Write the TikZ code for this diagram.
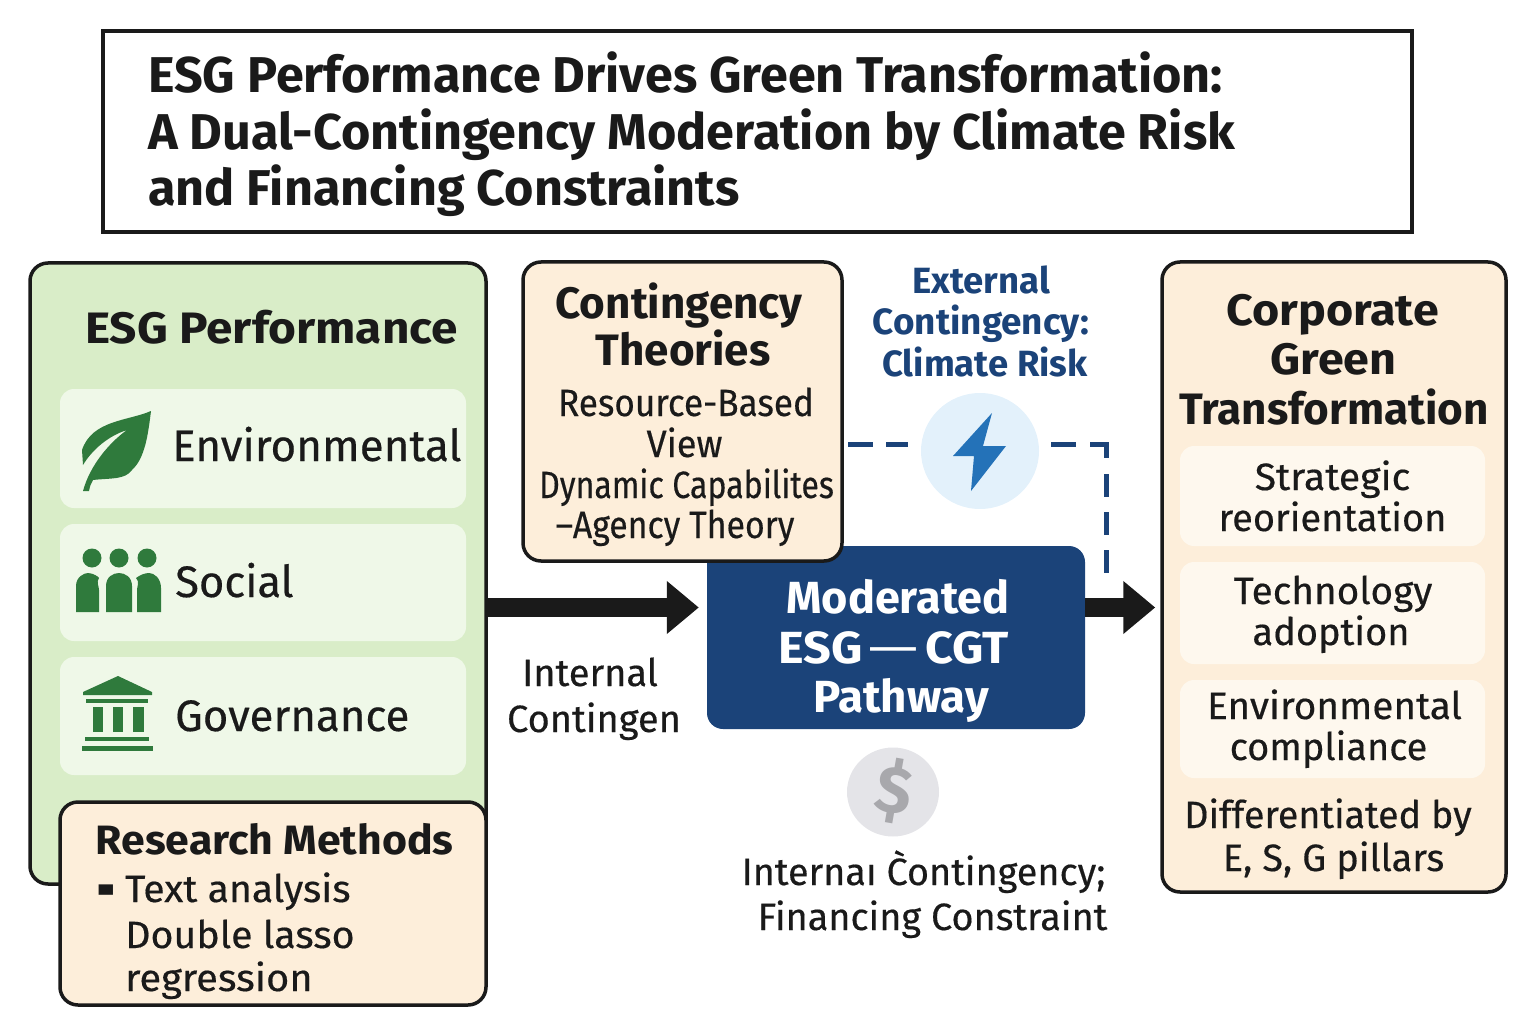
\documentclass[tikz,border=0pt]{standalone}
\usepackage{fontspec}
\usepackage{graphicx}
\setmainfont{Fira Sans}
\newfontfamily\medf{Fira Sans}[FakeBold=0.4]
\newfontfamily\symf{DejaVu Sans}
\newcommand{\sx}[2]{\scalebox{#1}[1]{#2}}
\usetikzlibrary{arrows.meta,shapes.geometric}
\definecolor{ink}{HTML}{1A1A1A}
\definecolor{navy}{HTML}{1B4379}
\definecolor{greenbg}{HTML}{D9EDC8}
\definecolor{greenrow}{HTML}{EFF8E8}
\definecolor{cream}{HTML}{FDEEDA}
\definecolor{creamrow}{HTML}{FEF8EE}
\definecolor{icong}{HTML}{2F7A3C}
\definecolor{bolt}{HTML}{2472B8}
\definecolor{boltbg}{HTML}{E3F1FB}
\definecolor{coinbg}{HTML}{E4E4E8}
\definecolor{coin}{HTML}{A8A8AC}
\tikzset{
  blackbox/.style={draw=ink,line width=3.5pt,rounded corners=18pt,inner sep=0pt},
  rowbox/.style={rounded corners=14pt,inner sep=0pt},
  tline/.style={anchor=base,inner sep=0pt,text=ink},
  lline/.style={anchor=base west,inner sep=0pt,text=ink},
  flow/.style={line width=19pt,draw=ink,-{Triangle[length=32pt,width=51pt]}},
  dashline/.style={draw=navy,line width=5pt},
  ttl/.style={font=\fontsize{50.3}{52}\selectfont\bfseries},
  head/.style={font=\fontsize{44}{46}\selectfont\bfseries},
  modh/.style={font=\fontsize{45}{47}\selectfont\bfseries},
  sub/.style={font=\fontsize{38}{40}\selectfont\medf},
  ext/.style={font=\fontsize{36.5}{38}\selectfont\bfseries},
  rowl/.style={font=\fontsize{44}{46}\selectfont\medf}
}
\begin{document}
\begin{tikzpicture}[x=1pt,y=-1pt]
\useasboundingbox (0,0) rectangle (1536,1024);
% title
\node[draw=ink,line width=3.5pt,minimum width=1309pt,minimum height=201pt,inner sep=0pt] (title) at (757.5,131.5) {};
\node[lline,ttl] (t1) at (148,92.5) {ESG Performance Drives Green Transformation:};
\node[lline,ttl] (t2) at (148,149.5) {A Dual-Contingency Moderation by Climate Risk};
\node[lline,ttl] (t3) at (148,205.5) {and Financing Constraints};
% ESG
\node[blackbox,fill=greenbg,minimum width=456pt,minimum height=621pt] (esg) at (258,573.5) {};
\node[lline,head] (esgh) at (85,343) {\sx{1.085}{ESG Performance}};
\node[rowbox,fill=greenrow,minimum width=406pt,minimum height=119pt] (renv) at (263,448.5) {};
\node[rowbox,fill=greenrow,minimum width=406pt,minimum height=117pt] (rsoc) at (263,582.5) {};
\node[rowbox,fill=greenrow,minimum width=406pt,minimum height=118pt] (rgov) at (263,716) {};
\node[lline,rowl] (lenv) at (172,461) {Environmental};
\node[lline,rowl] (lsoc) at (175,597) {\sx{0.99}{Social}};
\node[lline,rowl] (lgov) at (175,731) {\sx{0.995}{Governance}};
% leaf
\fill[icong] (151,411) .. controls (128,421) and (92,420) .. (82,450) -- (83,465)
  .. controls (92,450) and (108,436) .. (127,430) .. controls (110,442) and (90,465) .. (83,491)
  -- (89,491) .. controls (90,486) and (91,483) .. (93,480) .. controls (110,478) and (125,480) .. (132,470)
  .. controls (145,458) and (148,435) .. (151,411) -- cycle;
% social
\foreach \cx in {92,119,147} \fill[icong] (\cx,558) ellipse [x radius=9.5pt,y radius=9.5pt];
\fill[icong] (76,612) -- (76,586) .. controls (76,577) and (84,573) .. (88,573) .. controls (93,573) and (99,577) .. (99,578) .. controls (96,582) and (99,586) .. (99,590) -- (99,612) -- cycle;
\fill[icong] (106,612) -- (106,586) .. controls (106,577) and (113,573) .. (119,573) .. controls (125,573) and (132,577) .. (132,586) -- (132,612) -- cycle;
\fill[icong] (137,612) -- (137,590) .. controls (137,586) and (140,582) .. (136,578) .. controls (140,575) and (145,573) .. (149,573) .. controls (154,573) and (161,578) .. (161,588) -- (161,612) -- cycle;
% governance
\fill[icong] (118,676) -- (152,692) -- (152,695) -- (83,695) -- (83,692) -- cycle;
\fill[icong] (86,699) rectangle (148,703);
\fill[icong] (93,707) rectangle (103,732);
\fill[icong] (113,707) rectangle (123,732);
\fill[icong] (133,707) rectangle (144,732);
\fill[icong] (85,737) rectangle (149,741);
\fill[icong] (82,746) rectangle (153,751);
% research
\node[blackbox,fill=cream,minimum width=426pt,minimum height=203pt] (res) at (273,903.5) {};
\node[lline,font=\fontsize{41}{43}\selectfont\bfseries] (rh) at (95.5,854) {\sx{1.044}{Research Methods}};
\node[lline,font=\fontsize{38}{40}\selectfont\symf] (r1) at (96,895) {\scalebox{0.76}[0.55]{▪}};
\node[lline,sub] (r2) at (125,902) {\sx{1.03}{Text analysis}};
\node[lline,sub] (r3) at (125,948) {\sx{1.035}{Double lasso}};
\node[lline,sub] (r4) at (125,991) {\sx{1.05}{regression}};
% moderated
\node[rounded corners=16pt,fill=navy,inner sep=0pt,minimum width=378pt,minimum height=183pt] (mod) at (896,637.5) {};
\node[tline,modh,text=white] (m1) at (898,613) {Moderated};
\node[tline,modh,text=white] (m2) at (893.5,663) {\sx{1.08}{ESG\hspace{6pt}{\mdseries\sx{1.3}{—}}\hspace{6pt}CGT}};
\node[tline,modh,text=white] (m3) at (901,712) {\sx{1.015}{Pathway}};
% theories
\node[blackbox,fill=cream,minimum width=319pt,minimum height=299pt] (th) at (682.5,411.5) {};
\node[tline,head] (th1) at (679,318) {Contingency};
\node[tline,head] (th2) at (683,365) {Theories};
\node[tline,sub] (th3) at (686,416) {\sx{0.925}{Resource-Based}};
\node[tline,sub] (th4) at (684.5,457) {\sx{0.95}{View}};
\node[tline,sub] (th5) at (686.5,498) {\sx{0.845}{Dynamic Capabilites}};
\node[tline,sub] (th6) at (675,538) {\sx{0.89}{–Agency Theory}};
% external
\node[tline,ext,text=navy] (e1) at (981,294) {External};
\node[tline,ext,text=navy] (e2) at (981,334) {\sx{1.01}{Contingency:}};
\node[tline,ext,text=navy] (e3) at (985,376) {Climate Risk};
\node[ellipse,fill=boltbg,inner sep=0pt,minimum width=118pt,minimum height=116pt] (bc) at (980,451) {};
\fill[bolt] (992,413) -- (983,446) -- (1006,446) -- (971,491) -- (974,456) -- (953,456) -- cycle;
\coordinate (dropend) at (1106,573);
\coordinate (dashlevel) at (0,444);
\coordinate (leftstart) at (848,444);
\coordinate (leftend) at (908,444);
\coordinate (rightstart) at (1051,444);
\draw[dashline,dash pattern=on 25pt off 13pt on 25pt off 13pt] (leftstart) -- (leftend);
\draw[dashline,dash pattern=on 25pt off 14pt on 30pt off 16pt on 23pt off 15pt on 23pt off 15pt on 30pt off 400pt] (rightstart) -- (dropend |- dashlevel) -- (dropend);
% corporate
\node[blackbox,fill=cream,minimum width=344pt,minimum height=630pt] (corp) at (1334,577) {};
\node[tline,head] (c1) at (1332.5,325) {\sx{1.06}{Corporate}};
\node[tline,head] (c2) at (1333.5,374) {\sx{1.06}{Green}};
\node[tline,head] (c3) at (1334,424) {Transformation};
\node[rowbox,fill=creamrow,minimum width=305pt,minimum height=100pt] (c4) at (1332.5,496) {};
\node[rowbox,fill=creamrow,minimum width=305pt,minimum height=102pt] (c5) at (1332.5,613) {};
\node[rowbox,fill=creamrow,minimum width=305pt,minimum height=98pt] (c6) at (1332.5,729) {};
\node[tline,sub] (s1) at (1332.5,490) {\sx{1.03}{Strategic}};
\node[tline,sub] (s2) at (1332.5,531) {reorientation};
\node[tline,sub] (s3) at (1333,604) {\sx{1.02}{Technology}};
\node[tline,sub] (s4) at (1331,645) {adoption};
\node[tline,sub] (s5) at (1334.5,719) {\sx{1.02}{Environmental}};
\node[tline,sub] (s6) at (1328.5,760) {compliance};
\node[tline,sub] (s7) at (1328,828) {\sx{0.99}{Differentiated by}};
\node[tline,sub] (s8) at (1333.5,871) {E, S, G pillars};
% internal labels
\node[tline,sub] (i1) at (590,686) {Internal};
\node[tline,sub] (i2) at (594,732) {Contingen};
\node[ellipse,fill=coinbg,inner sep=0pt,minimum width=92pt,minimum height=89pt] (dc) at (893,792) {};
\node[text=coin,inner sep=0pt,rotate=-10,font=\fontsize{66}{70}\selectfont\bfseries] (dl) at (894,791) {\$};
\node[tline,sub] (i3) at (923.5,885) {\sx{0.995}{Internaı C\char"0300 ontingency;}};
\node[tline,sub] (i4) at (932.5,930) {\sx{0.995}{Financing Constraint}};
% flows
\coordinate (flowlevel) at (0,607.5);
\draw[flow,shorten >=8pt] (esg.east |- flowlevel) -- (mod.west |- flowlevel);
\draw[flow,shorten >=5pt] (mod.east |- flowlevel) -- (corp.west |- flowlevel);
\end{tikzpicture}
\end{document}
